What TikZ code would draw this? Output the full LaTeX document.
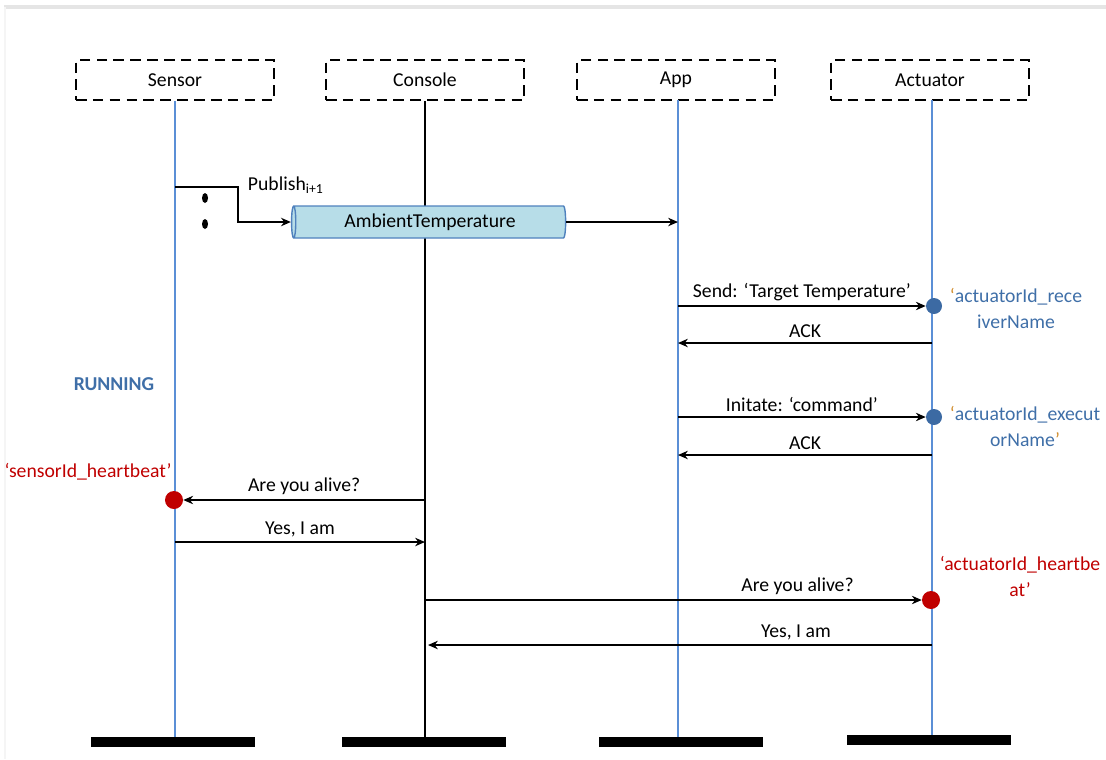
\documentclass[tikz,border=0pt]{standalone}
\usepackage{fontspec}
\setmainfont{Carlito}
\usetikzlibrary{shapes.geometric, arrows.meta}

\definecolor{lifeblue}{HTML}{5B8FD6}
\definecolor{dotblue}{HTML}{3C6AA3}
\definecolor{labelblue}{HTML}{3F6FA8}
\definecolor{beatred}{HTML}{C00000}
\definecolor{quoteorange}{HTML}{D08C2C}
\definecolor{pipefill}{HTML}{B7DDE8}
\definecolor{pipeedge}{HTML}{4F81BD}

\begin{document}
\begin{tikzpicture}[x=0.025cm, y=-0.025cm, >={Stealth[length=7pt, width=6pt]},
    every node/.style={font=\fontsize{14}{18.5}\selectfont},
    participant/.style={draw, line width=2pt, dash pattern=on 7.5pt off 4.5pt,
        minimum width=4.95cm, minimum height=1cm, inner sep=0pt},
    endbar/.style={fill=black, minimum width=4.075cm, minimum height=0.25cm, inner sep=0pt},
    lifeline/.style={lifeblue, line width=1.5pt},
    msg/.style={->, line width=1pt},
    pipe/.style={cylinder, shape border rotate=180, aspect=0.25, draw=pipeedge, fill=pipefill,
        line width=1pt, minimum width=0.8cm, minimum height=6.85cm, inner sep=0pt},
    rxdot/.style={circle, fill=dotblue, minimum size=0.4cm, inner sep=0pt},
    hbdot/.style={circle, fill=beatred, minimum size=0.45cm, inner sep=0pt}]
    \useasboundingbox (0,0) rectangle (1106,759);
    % frame shadow
    \draw[gray!20, line width=3pt] (4,7) -- (1106,7);
    \draw[gray!8, line width=2pt] (5,7) -- (5,759);

    % Participants
    \node[participant] at (175,80) (sensor) {Sensor};
    \node[participant] at (425,80) (console) {Console};
    \node[participant] at (676,80) (app) {App};
    \node[participant] at (930,80) (actuator) {Actuator};

    % Ends
    \node[endbar] at (173,742) (sensorEnd) {};
    \node[endbar] at (424,742) (consoleEnd) {};
    \node[endbar] at (681,742) (appEnd) {};
    \node[endbar] at (929,740) (actuatorEnd) {};

    % Lifelines
    \draw[lifeline] (sensor.south) -- (sensor.south |- sensorEnd.north);
    \draw[line width=1.8pt] (console.south) -- (console.south |- consoleEnd.north);
    \coordinate (appTop) at (678,100);
    \coordinate (actTop) at (932,100);
    \draw[lifeline] (appTop) -- (appTop |- appEnd.north);
    \draw[lifeline] (actTop) -- (actTop |- actuatorEnd.north);

    % Publish
    \node[pipe] at (430,222) (topic) {AmbientTemperature};
    \coordinate (pubStart) at (175,187);
    \coordinate (pubBend) at (238,204);
    \coordinate (appIn) at (678,222);
    \draw[msg] (pubStart) -| (pubBend) |- (topic.west);
    \node[anchor=west] at (243,185) (publish) {Publish\textsubscript{i+1}};
    \fill (205,198) ellipse (3 and 5);
    \fill (205,224) ellipse (3 and 5);
    \draw[msg] (topic.east) -- (appIn);

    \node[font=\fontsize{14}{18.5}\selectfont\bfseries, text=labelblue] at (114,384) (running) {RUNNING};

    % App <-> Actuator
    \coordinate (appSend) at (678,306);
    \node[rxdot] at (934,306) (recvDot) {};
    \draw[msg] (appSend) -- (recvDot)
        node[midway, above] {Send: ‘Target Temperature’};
    \coordinate (actAckA) at (932,343);
    \coordinate (appAckA) at (678,343);
    \draw[msg] (actAckA) -- (appAckA)
        node[midway, above] {ACK};
    \node[text=labelblue, align=center] at (1016,308) (recvName)
        {\textcolor{quoteorange}{‘}actuatorId\_rece\\iverName};

    \coordinate (appInit) at (678,417);
    \node[rxdot] at (934,417) (execDot) {};
    \draw[msg] (appInit) -- (execDot)
        node[midway, above] {Initate: ‘command’};
    \coordinate (actAckB) at (932,455);
    \coordinate (appAckB) at (678,455);
    \draw[msg] (actAckB) -- (appAckB)
        node[midway, above] {ACK};
    \node[text=labelblue, align=center] at (1025,426) (execName)
        {\textcolor{quoteorange}{‘}actuatorId\_execut\\orName\textcolor{quoteorange}{’}};

    % Heartbeats
    \node[hbdot] at (174,500) (sensorDot) {};
    \coordinate (conAskA) at (425,500);
    \draw[msg] (conAskA) -- (sensorDot)
        node[midway, above] {Are you alive?};
    \node[text=beatred] at (88,472) (sensorBeat) {‘sensorId\_heartbeat’};
    \coordinate (senYes) at (175,542);
    \coordinate (conYesA) at (425,542);
    \draw[msg] (senYes) -- (conYesA)
        node[midway, above] {Yes, I am};

    \coordinate (conAskB) at (425,600);
    \node[hbdot] at (931,600) (actDot) {};
    \draw[msg] (conAskB) -- (actDot)
        node[pos=0.75, above] {Are you alive?};
    \node[text=beatred, align=center] at (1020,576) (actBeat) {‘actuatorId\_heartbe\\at’};
    \coordinate (actYes) at (932,645);
    \coordinate (conYesB) at (428,645);
    \draw[msg] (actYes) -- (conYesB)
        node[pos=0.27, above] {Yes, I am};
\end{tikzpicture}
\end{document}
